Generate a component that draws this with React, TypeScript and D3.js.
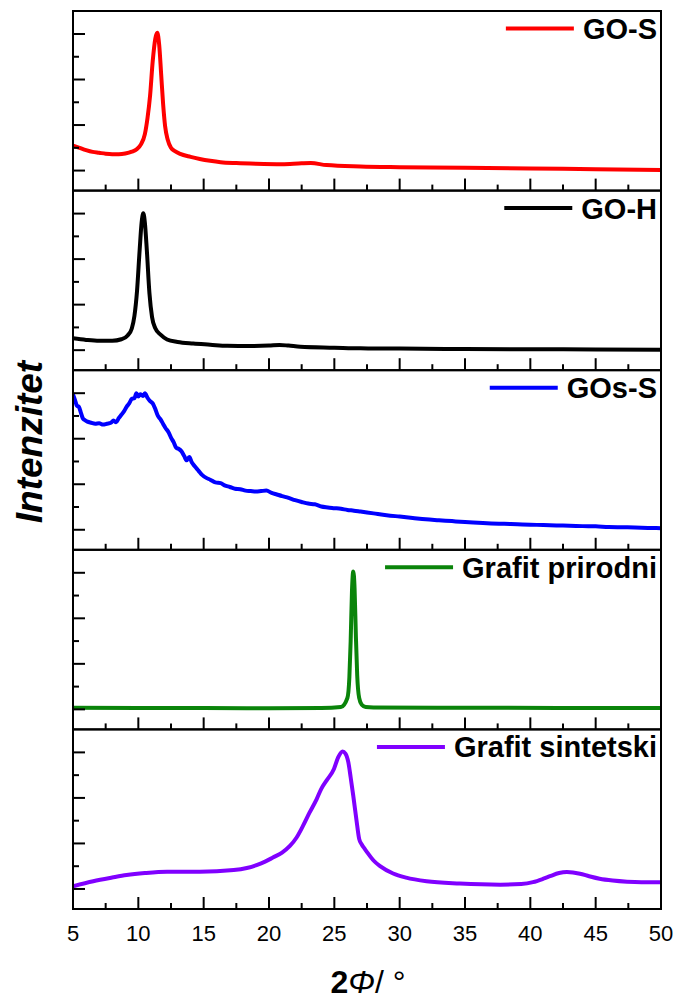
import React, { useEffect, useRef } from "react";
import * as d3 from "d3";

type Pt = [number, number];

const xTicks = [5, 10, 15, 20, 25, 30, 35, 40, 45, 50];
const yTickUnits = [0, 1, 2, 3, 4, 5, 6];

const seriesNames = ["GO-S", "GO-H", "GOs-S", "Grafit prirodni", "Grafit sintetski"];
const seriesColors = ["#ff0000", "#000000", "#0000ff", "#0a840a", "#8000ff"];

const goS: Pt[] = [
  [5, 1.1], [5.5, 1.0], [6, 0.9], [6.5, 0.82], [7, 0.78], [7.5, 0.74], [8, 0.72], [8.5, 0.72],
  [9, 0.75], [9.5, 0.83], [9.9, 0.95], [10.2, 1.15], [10.5, 1.6], [10.7, 2.3], [10.9, 3.3],
  [11.1, 4.8], [11.3, 5.8], [11.45, 6.05], [11.6, 5.5], [11.75, 4.2], [11.9, 2.9], [12.05, 1.95],
  [12.25, 1.35], [12.5, 1.0], [12.8, 0.85], [13.2, 0.73], [14, 0.6], [14.7, 0.51], [15.5, 0.43],
  [16.3, 0.37], [17.5, 0.33], [19, 0.3], [21, 0.28], [22.5, 0.32], [23.2, 0.33], [24.4, 0.24],
  [27, 0.18], [30, 0.15], [35, 0.12], [40, 0.09], [45, 0.06], [50, 0.03],
];

const goH: Pt[] = [
  [5, 0.52], [6, 0.45], [7, 0.41], [8, 0.41], [8.7, 0.48], [9.2, 0.66], [9.5, 0.95], [9.7, 1.5],
  [9.9, 2.6], [10.1, 4.4], [10.25, 5.6], [10.38, 6.01], [10.5, 5.6], [10.65, 4.4], [10.85, 2.5],
  [11.05, 1.45], [11.3, 0.96], [11.7, 0.68], [12.2, 0.47], [13, 0.36], [14.2, 0.29], [15.5, 0.24],
  [16.8, 0.19], [18.5, 0.18], [20, 0.2], [20.8, 0.23], [21.5, 0.2], [22.4, 0.15], [25, 0.11],
  [27, 0.08], [30, 0.07], [35, 0.05], [40, 0.04], [45, 0.03], [50, 0.02],
];

const goSs: Pt[] = [
  [5.0, 5.95], [5.15, 5.7], [5.3, 5.45], [5.45, 5.4], [5.6, 5.15], [5.75, 4.9], [5.9, 4.82],
  [6.1, 4.75], [6.4, 4.7], [6.7, 4.66], [7.0, 4.68], [7.3, 4.62], [7.6, 4.66], [7.9, 4.7],
  [8.1, 4.8], [8.3, 4.72], [8.5, 4.9], [8.7, 5.05], [8.9, 5.2], [9.1, 5.4], [9.3, 5.55],
  [9.5, 5.75], [9.7, 5.78], [9.85, 6.0], [10.0, 5.85], [10.15, 5.95], [10.35, 5.88], [10.5, 6.0],
  [10.7, 5.8], [10.9, 5.65], [11.1, 5.55], [11.3, 5.3], [11.5, 5.0], [11.7, 4.85], [11.9, 4.65],
  [12.1, 4.45], [12.3, 4.3], [12.5, 4.05], [12.7, 3.85], [12.9, 3.6], [13.1, 3.55], [13.3, 3.45],
  [13.5, 3.25], [13.7, 3.05], [13.9, 3.2], [14.1, 2.95], [14.3, 2.8], [14.6, 2.6], [14.9, 2.4],
  [15.2, 2.28], [15.5, 2.2], [15.9, 2.08], [16.3, 2.05], [16.6, 1.95], [17.0, 1.88], [17.4, 1.8],
  [17.8, 1.78], [18.2, 1.72], [18.6, 1.7], [19.0, 1.68], [19.4, 1.7], [19.8, 1.72], [20.2, 1.62],
  [20.6, 1.55], [21.0, 1.48], [21.5, 1.4], [22.0, 1.3], [22.5, 1.22], [23.0, 1.15], [23.5, 1.12],
  [24.0, 1.02], [24.5, 0.98], [25.0, 0.95], [25.5, 0.92], [26.0, 0.87], [26.5, 0.84], [27.0, 0.8],
  [28, 0.72], [29, 0.64], [30, 0.58], [31, 0.52], [32, 0.46], [33, 0.42], [34, 0.38], [35, 0.34],
  [36, 0.31], [37, 0.28], [38, 0.26], [39, 0.24], [40, 0.22], [41, 0.21], [42, 0.19], [43, 0.18],
  [44, 0.16], [45, 0.15], [46, 0.12], [47, 0.11], [48, 0.1], [49, 0.08], [50, 0.07],
];

const grafitPrirodni: Pt[] = [
  [5, 0.07], [10, 0.06], [15, 0.06], [20, 0.05], [24, 0.06], [25.5, 0.1], [26.0, 0.5],
  [26.15, 1.4], [26.25, 3.0], [26.35, 5.2], [26.45, 6.06], [26.55, 5.3], [26.65, 3.2],
  [26.75, 1.5], [26.9, 0.5], [27.1, 0.2], [27.4, 0.1], [28, 0.08], [35, 0.07], [50, 0.06],
];

const grafitSintetski: Pt[] = [
  [5, 0.12], [6.55, 0.34], [8, 0.5], [9.1, 0.61], [10.5, 0.7], [12.2, 0.76], [14.7, 0.76],
  [17.3, 0.83], [18.3, 0.92], [19.05, 1.05], [19.7, 1.2], [20.3, 1.38], [21, 1.6], [21.6, 1.89],
  [22.1, 2.25], [22.6, 2.77], [23.1, 3.35], [23.65, 3.95], [24.0, 4.4], [24.4, 4.76],
  [24.97, 5.27], [25.3, 5.79], [25.63, 6.04], [25.85, 5.95], [26.07, 5.57], [26.25, 4.9],
  [26.45, 4.09], [26.7, 3.0], [26.9, 2.2], [27.1, 1.95], [27.3, 1.78], [27.5, 1.62], [28, 1.25],
  [28.5, 1.0], [29.5, 0.68], [30.5, 0.5], [32.06, 0.34], [34.6, 0.24], [37.7, 0.19], [39.3, 0.22],
  [40.2, 0.3], [41, 0.45], [41.5, 0.56], [42.2, 0.7], [42.8, 0.74], [43.8, 0.67], [44.5, 0.56],
  [45.3, 0.45], [46.3, 0.37], [47.4, 0.32], [48.5, 0.3], [50, 0.3],
];

const allSeries = [goS, goH, goSs, grafitPrirodni, grafitSintetski];

const W = 678;
const H = 1001;
const LEFT = 73;
const RIGHT = 661;
const TOP = 11;
const BOTTOM = 909;
const FONT = "'Liberation Sans', Arial, sans-serif";

export default function App() {
  const ref = useRef<SVGSVGElement | null>(null);

  useEffect(() => {
    const svg = d3.select(ref.current);
    svg.selectAll("*").remove();
    const n = allSeries.length;
    const ph = (BOTTOM - TOP) / n;
    const x = d3.scaleLinear().domain([5, 50]).range([LEFT, RIGHT]);
    const minorX = d3.range(5, 50.01, 2.5);

    allSeries.forEach((data, i) => {
      const top = TOP + i * ph;
      const bottom = top + ph;
      const y = d3.scaleLinear().domain([-0.88, 7.01]).range([bottom, top]);
      const g = svg.append("g");

      const clipId = `clip${i}`;
      svg.append("clipPath").attr("id", clipId)
        .append("rect").attr("x", LEFT).attr("y", top).attr("width", RIGHT - LEFT).attr("height", ph);

      const line = d3.line<Pt>().x((d) => x(d[0])).y((d) => y(d[1])).curve(d3.curveMonotoneX);
      g.append("path")
        .attr("d", line(data) as string)
        .attr("fill", "none")
        .attr("stroke", seriesColors[i])
        .attr("stroke-width", 4)
        .attr("stroke-linejoin", "round")
        .attr("clip-path", `url(#${clipId})`);

      // x ticks (inward)
      minorX.forEach((t) => {
        const major = Math.abs(t % 5) < 1e-6;
        g.append("line")
          .attr("x1", x(t)).attr("x2", x(t))
          .attr("y1", bottom).attr("y2", bottom - (major ? 12 : 6))
          .attr("stroke", "#000").attr("stroke-width", 2);
      });
      // y ticks (inward)
      yTickUnits.forEach((t) => {
        const major = t % 2 === 0;
        g.append("line")
          .attr("x1", LEFT).attr("x2", LEFT + (major ? 12 : 6))
          .attr("y1", y(t)).attr("y2", y(t))
          .attr("stroke", "#000").attr("stroke-width", 2);
      });
      // frame
      g.append("rect")
        .attr("x", LEFT).attr("y", top).attr("width", RIGHT - LEFT).attr("height", ph)
        .attr("fill", "none").attr("stroke", "#000").attr("stroke-width", 2);

      // legend
      const txt = g.append("text")
        .attr("x", 657).attr("y", top + 28)
        .attr("text-anchor", "end")
        .attr("font-family", FONT).attr("font-weight", "bold").attr("font-size", 29)
        .attr("fill", "#000")
        .text(seriesNames[i]);
      const tw = (txt.node() as SVGTextElement).getComputedTextLength();
      const lineEnd = 657 - tw - 9;
      g.append("line")
        .attr("x1", lineEnd - 68).attr("x2", lineEnd)
        .attr("y1", top + 17.5).attr("y2", top + 17.5)
        .attr("stroke", seriesColors[i]).attr("stroke-width", 4);
    });

    // x tick labels
    xTicks.forEach((t) => {
      svg.append("text")
        .attr("x", x(t)).attr("y", 940.5)
        .attr("text-anchor", "middle")
        .attr("font-family", FONT).attr("font-size", 22)
        .attr("fill", "#000")
        .text(String(t));
    });

    // x title
    const xt = svg.append("text")
      .attr("x", 368).attr("y", 993)
      .attr("text-anchor", "middle")
      .attr("font-family", FONT).attr("font-size", 32).attr("fill", "#000");
    xt.append("tspan").attr("font-weight", "bold").text("2");
    xt.append("tspan").attr("font-style", "italic").text("Φ");
    xt.append("tspan").text("/ °");

    // y title
    svg.append("text")
      .attr("transform", `translate(42, 442) rotate(-90)`)
      .attr("text-anchor", "middle")
      .attr("font-family", FONT).attr("font-size", 37)
      .attr("font-weight", "bold").attr("font-style", "italic")
      .attr("fill", "#000")
      .text("Intenzitet");
  }, []);

  return (
    <svg
      ref={ref}
      width={W}
      height={H}
      style={{ position: "absolute", left: 0, top: 0, background: "#fff" }}
    />
  );
}
